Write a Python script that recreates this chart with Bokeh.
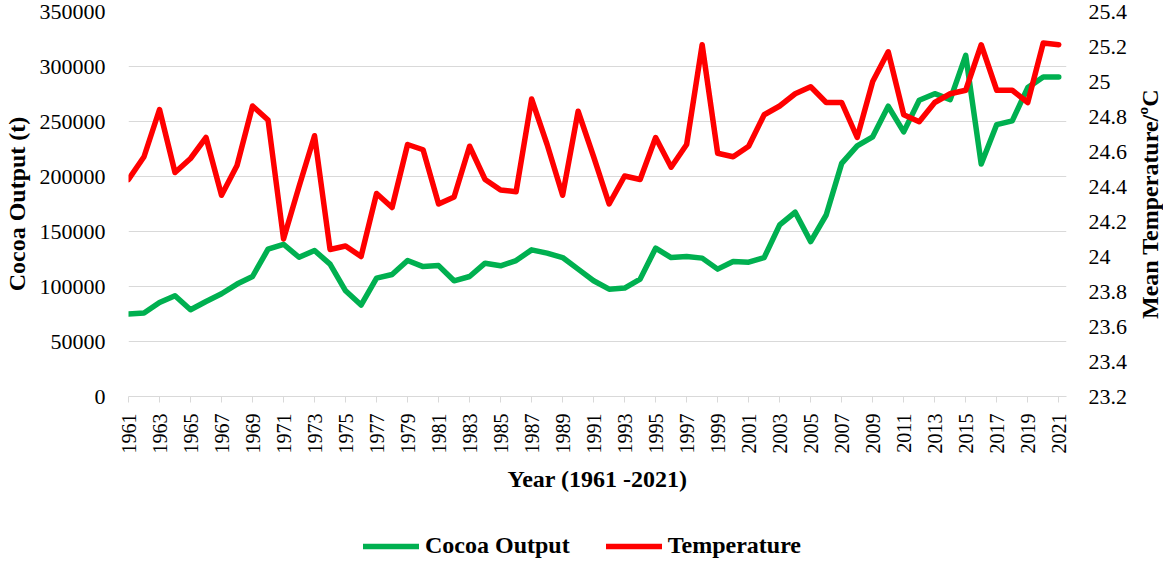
import math
from bokeh.plotting import figure
from bokeh.layouts import column, row
from bokeh.models import (Range1d, LinearAxis, FixedTicker, BasicTickFormatter,
                          CustomJSTickFormatter, Legend, LegendItem)
from bokeh.embed import file_html
from bokeh.resources import INLINE

years = list(range(1961, 2022))
cocoa = [75000, 75900, 85500, 91600, 78900, 86400, 93400, 102200, 109100, 133900,
         138400, 126600, 132700, 120300, 96100, 83100, 107600, 110900, 123600, 118100,
         119000, 105200, 109100, 121200, 118800, 123600, 133300, 130300, 126300, 115800,
         105200, 97600, 98600, 106700, 134800, 126300, 127200, 125800, 115800, 122700,
         122100, 126300, 156000, 167500, 140800, 165000, 211900, 227900, 236100, 263900,
         240600, 269300, 275300, 269900, 310100, 211300, 247200, 250600, 280800, 290500,
         290500]
temperature = [24.44, 24.57, 24.84, 24.48, 24.56, 24.68, 24.35, 24.52, 24.86, 24.78,
               24.10, 24.40, 24.69, 24.04, 24.06, 24.00, 24.36, 24.28, 24.64, 24.61,
               24.30, 24.34, 24.63, 24.44, 24.38, 24.37, 24.90, 24.64, 24.35, 24.83,
               24.57, 24.30, 24.46, 24.44, 24.68, 24.51, 24.64, 25.21, 24.59, 24.57,
               24.63, 24.81, 24.86, 24.93, 24.97, 24.88, 24.88, 24.68, 25.00, 25.17,
               24.81, 24.77, 24.88, 24.93, 24.95, 25.21, 24.95, 24.95, 24.88, 25.22,
               25.21]
year_ticks = years[::2]
cocoa_ticks = [0, 50000, 100000, 150000, 200000, 250000, 300000, 350000]
temp_ticks = [23.2, 23.4, 23.6, 23.8, 24.0, 24.2, 24.4, 24.6, 24.8, 25.0, 25.2, 25.4]
series_names = ["Cocoa Output", "Temperature"]
x_title = "Year (1961 -2021)"
left_title = "Cocoa Output (t)"
right_title = "Mean Temperature/ºC"

FONT = "Liberation Serif"
GREEN = "#00B050"
RED = "#FF0000"
GRID = "#D9D9D9"
LW = 5.5

MAIN_W, MAIN_H = 1133, 500
LEFT, RIGHT, TOP, BOTTOM = 127, 67, 11, 104

p = figure(width=MAIN_W, height=MAIN_H, output_backend="svg", toolbar_location=None,
           x_range=Range1d(1961, 2021.5), y_range=Range1d(0, 350000),
           min_border_left=LEFT, min_border_right=RIGHT, min_border_top=TOP,
           min_border_bottom=BOTTOM)
p.outline_line_color = None
p.extra_y_ranges = {"temp": Range1d(23.2, 25.4)}

p.xgrid.visible = False
p.ygrid.grid_line_color = GRID
p.ygrid.grid_line_width = 1

xa = p.xaxis[0]
xa.ticker = FixedTicker(ticks=year_ticks)
xa.formatter = BasicTickFormatter(use_scientific=False)
xa.major_label_orientation = math.pi / 2
xa.major_label_text_font = FONT
xa.major_label_text_font_size = "20px"
xa.major_label_text_color = "black"
xa.major_label_standoff = 11
xa.axis_line_color = GRID
xa.major_tick_line_color = GRID
xa.major_tick_out = 6
xa.major_tick_in = 0
xa.minor_tick_line_color = None
xa.axis_label = x_title
xa.axis_label_text_font = FONT
xa.axis_label_text_font_style = "bold"
xa.axis_label_text_font_size = "24px"
xa.axis_label_text_color = "black"
xa.axis_label_standoff = 9

ya = p.yaxis[0]
ya.ticker = FixedTicker(ticks=cocoa_ticks)
ya.formatter = BasicTickFormatter(use_scientific=False)
ya.major_label_text_font = FONT
ya.major_label_text_font_size = "22px"
ya.major_label_text_color = "black"
ya.major_label_standoff = 17
ya.axis_line_color = None
ya.major_tick_line_color = None
ya.minor_tick_line_color = None
ya.axis_label = left_title
ya.axis_label_text_font = FONT
ya.axis_label_text_font_style = "bold"
ya.axis_label_text_font_size = "24px"
ya.axis_label_text_color = "black"
ya.axis_label_standoff = 7

ra = LinearAxis(y_range_name="temp",
                ticker=FixedTicker(ticks=temp_ticks),
                formatter=CustomJSTickFormatter(code="return String(Math.round(tick*10)/10);"))
ra.major_label_text_font = FONT
ra.major_label_text_font_size = "22px"
ra.major_label_text_color = "black"
ra.major_label_standoff = 16
ra.axis_line_color = None
ra.major_tick_line_color = None
ra.minor_tick_line_color = None
p.add_layout(ra, "right")

p.line(years, cocoa, line_color=GREEN, line_width=LW, line_join="round", line_cap="round")
p.line(years, temperature, y_range_name="temp", line_color=RED, line_width=LW,
       line_join="round", line_cap="round")

# right-hand axis title, drawn as a bottom-to-top reading axis label of a slim figure
tf = figure(width=30, height=MAIN_H, output_backend="svg", toolbar_location=None,
            x_range=Range1d(0, 1), y_range=Range1d(23.2, 25.4),
            min_border_left=28, min_border_right=0, min_border_top=TOP,
            min_border_bottom=BOTTOM)
tf.outline_line_color = None
tf.xaxis.visible = False
tf.grid.visible = False
ta = tf.yaxis[0]
ta.ticker = FixedTicker(ticks=[])
ta.axis_line_color = None
ta.major_tick_line_color = None
ta.minor_tick_line_color = None
ta.major_label_standoff = 0
ta.axis_label = right_title
ta.axis_label_text_font = FONT
ta.axis_label_text_font_style = "bold"
ta.axis_label_text_font_size = "24px"
ta.axis_label_text_color = "black"
ta.axis_label_standoff = 0

# legend strip below the chart (series drawn out of view, only their legend keys show)
lf = figure(width=MAIN_W, height=59, output_backend="svg", toolbar_location=None,
            x_range=Range1d(1961, 2021.5), y_range=Range1d(-2, -1),
            min_border_left=LEFT, min_border_right=RIGHT, min_border_top=0,
            min_border_bottom=0)
lf.outline_line_color = None
lf.axis.visible = False
lf.grid.visible = False
lg = lf.line(years, cocoa, line_color=GREEN, line_width=LW, line_cap="round")
lr = lf.line(years, temperature, line_color=RED, line_width=LW, line_cap="round")
legend = Legend(items=[LegendItem(label=series_names[0], renderers=[lg]),
                       LegendItem(label=series_names[1], renderers=[lr])],
                orientation="horizontal", location=(235, 0))
legend.label_text_font = FONT
legend.label_text_font_style = "bold"
legend.label_text_font_size = "24px"
legend.label_text_color = "black"
legend.glyph_width = 56
legend.glyph_height = 26
legend.label_height = 26
legend.label_standoff = 6
legend.spacing = 36
legend.padding = 0
legend.margin = 0
legend.border_line_color = None
legend.background_fill_alpha = 0
lf.add_layout(legend)

layout = row(column(p, lf), tf)
open("out.html", "w").write(file_html(layout, INLINE))
